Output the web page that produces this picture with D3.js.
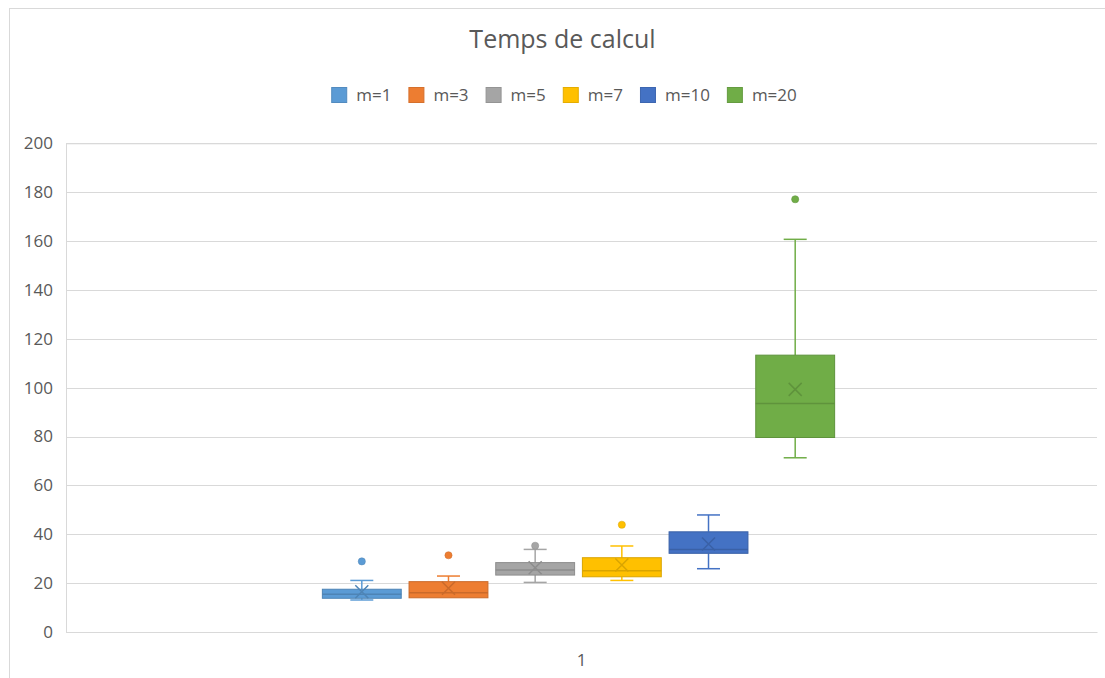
<!DOCTYPE html>
<html>
<head>
<meta charset="utf-8">
<script src="https://cdn.jsdelivr.net/npm/d3@7"></script>
<style>
  html, body { margin: 0; padding: 0; background: #fff; }
  svg { display: block; }
  text { font-family: "Open Sans", "Noto Sans", sans-serif; fill: #595959; }
</style>
</head>
<body>
<svg id="chart" width="1105" height="678"></svg>
<script>
const title = "Temps de calcul";
const categories = ["1"];
const series = ["m=1", "m=3", "m=5", "m=7", "m=10", "m=20"];
const colors = ["#5B9BD5", "#ED7D31", "#A5A5A5", "#FFC000", "#4472C4", "#70AD47"];
const whiskerLow  = [13.1, 14.0, 20.3, 21.1, 25.9, 71.3];
const q1          = [13.8, 14.0, 23.3, 22.6, 32.2, 79.6];
const median      = [15.5, 16.1, 25.4, 25.1, 33.8, 93.5];
const q3          = [17.5, 20.6, 28.4, 30.4, 41.0, 113.3];
const whiskerHigh = [21.1, 22.9, 33.8, 35.2, 47.9, 160.7];
const mean        = [16.5, 17.9, 26.3, 27.4, 36.0, 99.3];
const outliers    = [[28.9], [31.4], [35.3], [43.9], [], [177.1]];
const yTicks = [0, 20, 40, 60, 80, 100, 120, 140, 160, 180, 200];

const svg = d3.select("#chart");
const plot = { left: 66, right: 1097, top: 143.3, bottom: 632 };

// chart border
svg.append("rect").attr("x", 9.5).attr("y", 8.5).attr("width", 1110).attr("height", 680)
  .attr("fill", "none").attr("stroke", "#d9d9d9");

const y = d3.scaleLinear().domain([0, 200]).range([plot.bottom, plot.top]);
const x = d3.scaleBand().domain(categories).range([plot.left - 6, plot.right]).paddingInner(0).paddingOuter(0.497);
const xs = d3.scaleBand().domain(series).range([0, x.bandwidth()]).paddingInner(0.09).paddingOuter(0.045);

// title
svg.append("text").attr("x", 562.5).attr("y", 48).attr("text-anchor", "middle")
  .style("font-size", "25px").text(title);

// gridlines
const yAxis = d3.axisLeft(y).tickValues(yTicks).tickSize(-(plot.right - plot.left)).tickPadding(13);
const gy = svg.append("g").attr("transform", `translate(${plot.left},0)`).call(yAxis);
gy.select(".domain").attr("stroke", "#d9d9d9");
gy.selectAll(".tick line").attr("stroke", "#d9d9d9").attr("shape-rendering", "crispEdges");
gy.selectAll(".tick text").style("font-size", "17px").attr("fill", "#595959").style("font-family", "'Open Sans', sans-serif");

// x axis
const xAxis = d3.axisBottom(d3.scaleBand().domain(categories).range([plot.left, plot.right])).tickSize(0).tickPadding(22);
const gx = svg.append("g").attr("transform", `translate(0,${plot.bottom})`).call(xAxis);
gx.select(".domain").attr("stroke", "#d9d9d9");
gx.selectAll(".tick text").style("font-size", "17px").attr("fill", "#595959").style("font-family", "'Open Sans', sans-serif");

// boxes
const data = series.map((s, i) => ({
  s, c: colors[i], lo: whiskerLow[i], q1: q1[i], med: median[i], q3: q3[i], hi: whiskerHigh[i], mean: mean[i], out: outliers[i]
}));
const g = svg.append("g").attr("transform", `translate(${x("1")},0)`);
const bw = xs.bandwidth();
const capW = 23;
data.forEach(d => {
  const cx = xs(d.s) + bw / 2;
  const dark = d3.color(d.c).darker(0.45).formatHex();
  const bg = g.append("g");
  // whiskers
  bg.append("line").attr("x1", cx).attr("x2", cx).attr("y1", y(d.q3)).attr("y2", y(d.hi)).attr("stroke", d.c).attr("stroke-width", 1.5);
  bg.append("line").attr("x1", cx).attr("x2", cx).attr("y1", y(d.q1)).attr("y2", y(d.lo)).attr("stroke", d.c).attr("stroke-width", 1.5);
  bg.append("line").attr("x1", cx - capW / 2).attr("x2", cx + capW / 2).attr("y1", y(d.hi)).attr("y2", y(d.hi)).attr("stroke", d.c).attr("stroke-width", 1.5);
  if (d.lo < d.q1) bg.append("line").attr("x1", cx - capW / 2).attr("x2", cx + capW / 2).attr("y1", y(d.lo)).attr("y2", y(d.lo)).attr("stroke", d.c).attr("stroke-width", 1.5);
  // box
  bg.append("rect").attr("x", xs(d.s)).attr("width", bw).attr("y", y(d.q3)).attr("height", y(d.q1) - y(d.q3))
    .attr("fill", d.c).attr("stroke", dark).attr("stroke-width", 1);
  // median
  bg.append("line").attr("x1", xs(d.s)).attr("x2", xs(d.s) + bw).attr("y1", y(d.med)).attr("y2", y(d.med)).attr("stroke", dark).attr("stroke-width", 1.5);
  // mean X
  const my = y(d.mean), r = 6.5;
  bg.append("path").attr("d", `M${cx - r},${my - r}L${cx + r},${my + r}M${cx - r},${my + r}L${cx + r},${my - r}`)
    .attr("stroke", dark).attr("stroke-width", 1.5).attr("fill", "none");
  // outliers
  d.out.forEach(o => {
    bg.append("circle").attr("cx", cx).attr("cy", y(o)).attr("r", 3.6).attr("fill", d.c).attr("stroke", dark).attr("stroke-width", 0.5);
  });
});

// legend
const lg = svg.append("g");
let lx = 0;
series.forEach((s, i) => {
  const it = lg.append("g");
  it.append("rect").attr("x", 0.5).attr("y", -7.5).attr("width", 15).attr("height", 15)
    .attr("fill", colors[i]).attr("stroke", d3.color(colors[i]).darker(0.3).formatHex());
  const t = it.append("text").attr("x", 25).attr("y", 0).attr("dy", "0.35em").style("font-size", "17px").text(s);
  const w = 25 + t.node().getComputedTextLength();
  it.attr("transform", `translate(${lx},95)`);
  lx += w + 17;
});
const total = lx - 17;
lg.attr("transform", `translate(${564 - total / 2},0)`);
</script>
</body>
</html>
